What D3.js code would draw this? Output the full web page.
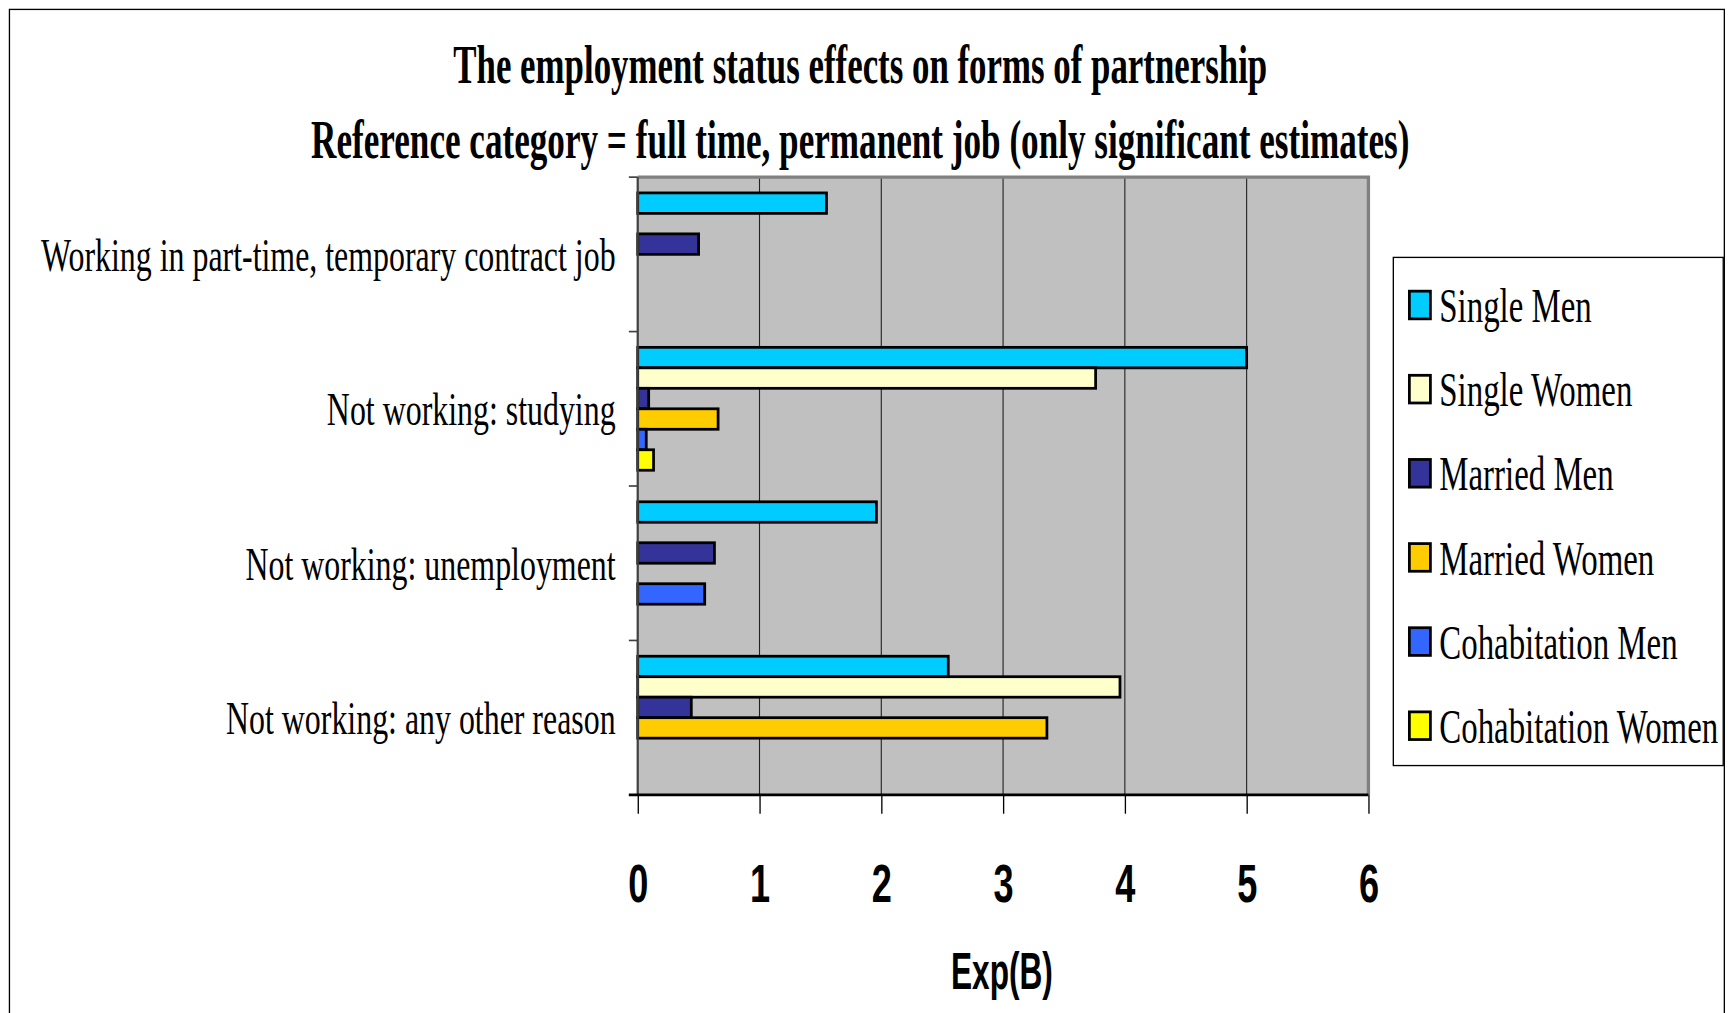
<!DOCTYPE html>
<html>
<head>
<meta charset="utf-8">
<script src="https://cdn.jsdelivr.net/npm/d3@7"></script>
<style>
  html, body { margin: 0; padding: 0; background: #fff; }
  svg { display: block; }
</style>
</head>
<body>
<div id="chart"></div>
<script>
// Chart data
const categories = [
  'Working in part-time, temporary contract job',
  'Not working: studying',
  'Not working: unemployment',
  'Not working: any other reason'
];
const series = ['Single Men', 'Single Women', 'Married Men', 'Married Women', 'Cohabitation Men', 'Cohabitation Women'];
const seriesColors = ['#00CCFF', '#FFFFCC', '#333399', '#FFCC00', '#3366FF', '#FFFF00'];

// only significant estimates -> null where no bar
const singleMen = [1.55, 5.0, 1.96, 2.55];
const singleWomen = [null, 3.76, null, 3.96];
const marriedMen = [0.5, 0.09, 0.63, 0.44];
const marriedWomen = [null, 0.66, null, 3.36];
const cohabitationMen = [null, 0.07, 0.55, null];
const cohabitationWomen = [null, 0.13, null, null];

const xTicks = [0, 1, 2, 3, 4, 5, 6];
const titleLines = [
  'The employment status effects on forms of partnership',
  'Reference category = full time, permanent job (only significant estimates)'
];
const xTitle = 'Exp(B)';

// Layout (viewBox units, scaled to 1736x1013)
const VB_W = 1568, VB_H = 915;
const PLOT = { left: 576, right: 1236, top: 160, bottom: 718 };
const SERIF = '"Liberation Serif", "Times New Roman", serif';
const SANS = '"Liberation Sans", Arial, sans-serif';

const svg = d3.select('#chart').append('svg')
  .attr('width', 1736)
  .attr('height', 1013)
  .attr('viewBox', `0 0 ${VB_W} ${VB_H}`);

// the original uses a narrow font: squeeze horizontally with a transform
function squeeze(sel, x, y, ratio) {
  sel.attr('x', 0).attr('y', 0)
    .attr('transform', `translate(${x},${y}) scale(${ratio},1)`);
}

// Outer frame
svg.append('rect')
  .attr('x', 8.5).attr('y', 8.5)
  .attr('width', 1549).attr('height', 1000)
  .attr('fill', 'none').attr('stroke', '#000').attr('stroke-width', 1.2);

// Titles
const titleY = [75, 143];
const titleW = [735, 992];
titleLines.forEach((t, i) => {
  const txt = svg.append('text')
    .attr('text-anchor', 'middle')
    .attr('font-family', SERIF)
    .attr('font-weight', 'bold')
    .attr('font-size', 50)
    .text(t);
  const w = txt.node().getComputedTextLength();
  txt.call(squeeze, 777, titleY[i], titleW[i] / w);
});

// Scales
const x = d3.scaleLinear().domain([0, 6]).range([PLOT.left, PLOT.right]);
const y0 = d3.scaleBand().domain(categories).range([PLOT.top, PLOT.bottom]);
const y1 = d3.scaleBand().domain(series).range([0, y0.bandwidth()]).paddingInner(0).paddingOuter(0.77);

// Plot background
svg.append('rect')
  .attr('x', PLOT.left).attr('y', PLOT.top)
  .attr('width', PLOT.right - PLOT.left).attr('height', PLOT.bottom - PLOT.top)
  .attr('fill', '#C0C0C0');

// Gridlines
svg.append('g')
  .selectAll('line').data(xTicks.filter(d => d > 0 && d < 6)).enter().append('line')
  .attr('x1', d => x(d)).attr('x2', d => x(d))
  .attr('y1', PLOT.top).attr('y2', PLOT.bottom)
  .attr('stroke', '#222').attr('stroke-width', 1);

// Plot border top/right (grey)
svg.append('path')
  .attr('d', `M${PLOT.left},${PLOT.top}H${PLOT.right}V${PLOT.bottom}`)
  .attr('fill', 'none').attr('stroke', '#808080').attr('stroke-width', 3);

// Bars
const seriesValues = [singleMen, singleWomen, marriedMen, marriedWomen, cohabitationMen, cohabitationWomen];
const barData = [];
categories.forEach((c, ci) => {
  series.forEach((s, si) => {
    const v = seriesValues[si][ci];
    if (v != null) barData.push({ cat: c, series: s, color: seriesColors[si], value: v });
  });
});

svg.append('g').attr('class', 'bars')
  .selectAll('rect').data(barData).enter().append('rect')
  .attr('x', x(0))
  .attr('y', d => y0(d.cat) + y1(d.series))
  .attr('width', d => x(d.value) - x(0))
  .attr('height', y1.bandwidth())
  .attr('fill', d => d.color)
  .attr('stroke', '#000')
  .attr('stroke-width', 2.5);

// Left axis: line, boundary ticks, category labels
const yAxis = svg.append('g').attr('transform', `translate(${PLOT.left},0)`);
yAxis.append('line')
  .attr('x1', 0).attr('x2', 0).attr('y1', PLOT.top).attr('y2', PLOT.bottom)
  .attr('stroke', '#404040').attr('stroke-width', 2);
const bounds = categories.map(c => y0(c)).concat([PLOT.bottom]);
yAxis.selectAll('line.tick').data(bounds).enter().append('line')
  .attr('class', 'tick')
  .attr('x1', -8).attr('x2', 0)
  .attr('y1', d => d).attr('y2', d => d)
  .attr('stroke', '#404040').attr('stroke-width', 1.5);

const catLabels = svg.append('g').selectAll('text').data(categories).enter().append('text')
  .attr('text-anchor', 'end')
  .attr('font-family', SERIF)
  .attr('font-size', 42)
  .text(d => d);
// calibrate compression on the longest label
const catRatio = 519 / catLabels.filter((d, i) => i === 0).node().getComputedTextLength();
catLabels.each(function(d) {
  d3.select(this).call(squeeze, 556, y0(d) + y0.bandwidth() / 2 + 15, catRatio);
});

// Bottom axis
const xAxis = svg.append('g')
  .attr('transform', `translate(0,${PLOT.bottom})`)
  .call(d3.axisBottom(x).tickValues(xTicks).tickSize(17).tickSizeOuter(0).tickFormat(d3.format('d')));
xAxis.select('.domain')
  .attr('d', `M${PLOT.left - 8},0H${PLOT.right}`)
  .attr('stroke', '#000').attr('stroke-width', 2.5);
xAxis.selectAll('.tick line').attr('stroke', '#000').attr('stroke-width', 1.2);
xAxis.selectAll('.tick text')
  .attr('dy', 0)
  .attr('fill', '#000')
  .attr('font-family', SANS)
  .attr('font-weight', 'bold')
  .attr('font-size', 48)
  .call(squeeze, 0, 97, 0.68);

// Axis title
const xt = svg.append('text')
  .attr('text-anchor', 'middle')
  .attr('font-family', SANS)
  .attr('font-weight', 'bold')
  .attr('font-size', 46)
  .text(xTitle);
xt.call(squeeze, 905, 893, 92 / xt.node().getComputedTextLength());

// Legend
const legend = svg.append('g');
legend.append('rect')
  .attr('x', 1258.5).attr('y', 232.5)
  .attr('width', 298).attr('height', 459)
  .attr('fill', '#fff').attr('stroke', '#000').attr('stroke-width', 1.2);
const legendY = d3.scalePoint().domain(series).range([276, 656]);
const items = legend.selectAll('g.item').data(series).enter().append('g')
  .attr('class', 'item')
  .attr('transform', d => `translate(0,${legendY(d)})`);
items.append('rect')
  .attr('x', 1273).attr('y', -13)
  .attr('width', 19).attr('height', 25)
  .attr('fill', (d, i) => seriesColors[i])
  .attr('stroke', '#000').attr('stroke-width', 2.5);
const legendText = items.append('text')
  .attr('font-family', SERIF)
  .attr('font-size', 44)
  .text(d => d);
const legRatio = 252 / legendText.filter((d, i) => i === 5).node().getComputedTextLength();
legendText.call(squeeze, 1300, 15, legRatio);
</script>
</body>
</html>
